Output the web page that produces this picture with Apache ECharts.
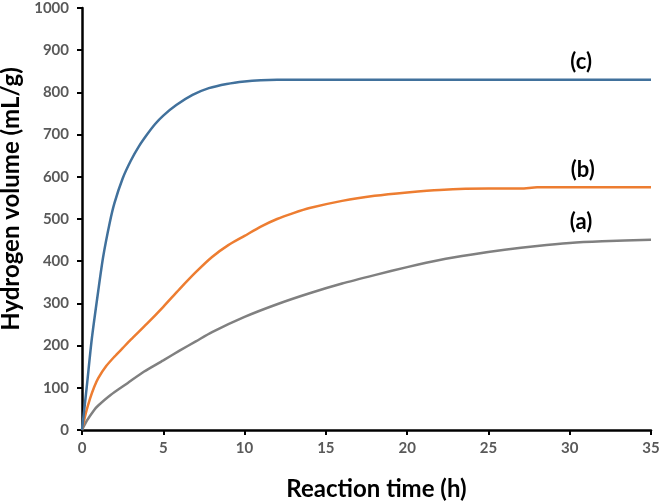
<!DOCTYPE html>
<html>
<head>
<meta charset="utf-8">
<script src="https://cdn.jsdelivr.net/npm/echarts@6/dist/echarts.min.js"></script>
<style>
html,body{margin:0;padding:0;background:#fff;}
#chart{width:661px;height:501px;}
</style>
</head>
<body>
<div id="chart"></div>
<script>
// Data: [time (h), hydrogen volume (mL/g)]
var seriesA = [[0,0],[0.3,22],[0.74,47],[1,58],[1.76,83],[2.8,111],[3.8,138],[5,165],[6,188],[7,210],[8,232],[10,268],[12,298],[14,324],[16,347],[18,367],[20,386],[22,403],[24,416],[26,427],[28,436],[30,443],[32,447],[35,451]];
var seriesB = [[0,0],[0.25,42],[0.5,75],[0.75,102],[1,123],[1.5,152],[2,174],[2.5,194],[3,214],[4,252],[5,292],[6,334],[7,374],[8,410],[9,438],[10,460],[11,482],[12,500],[13,514],[14,526],[16,543],[18,555],[20,563],[22,569],[25,572],[27,572],[28,575],[35,575]];
var seriesC = [[0,0],[0.3,105],[0.6,215],[1.0,330],[1.3,410],[1.7,490],[2.0,538],[2.5,596],[3,638],[3.5,672],[4,700],[4.5,725],[5,745],[5.8,770],[6.8,794],[7.8,810],[8.9,820],[10,826],[11,829],[12,830],[15,830],[20,830],[25,830],[30,830],[35,830]];
var labelA = {text:'(a)', coord:[30.7, 493]};
var labelB = {text:'(b)', coord:[30.8, 616]};
var labelC = {text:'(c)', coord:[30.7, 872]};
var xTitle = 'Reaction time (h)';
var yTitle = 'Hydrogen volume (mL/g)';

var FONT = 'Lato';
function mk(lbl){
  return {
    symbol:'circle', symbolSize:0,
    data:[{coord:lbl.coord, value:lbl.text}],
    label:{show:true, position:'inside', formatter:lbl.text, color:'#000', fontWeight:'bold', fontSize:22, fontFamily:FONT},
    itemStyle:{color:'rgba(0,0,0,0)'}
  };
}
var chart = echarts.init(document.getElementById('chart'), null, {renderer:'canvas'});
chart.setOption({
  animation:false,
  backgroundColor:'#fff',
  grid:{left:82, right:10, top:8, bottom:71, containLabel:false, outerBoundsMode:'none'},
  xAxis:{
    type:'value', min:0, max:35, interval:5,
    name:xTitle, nameLocation:'middle', nameGap:47,
    nameTextStyle:{color:'#000', fontWeight:'bold', fontSize:24, fontFamily:FONT, padding:[0,0,0,20]},
    axisLine:{show:true, onZero:false, lineStyle:{color:'#000', width:2.5}},
    axisTick:{show:true, length:5, lineStyle:{color:'#000', width:2}},
    axisLabel:{color:'#595959', fontWeight:'bold', fontSize:15, fontFamily:FONT, margin:11, formatter:function(v){return String(v);}},
    splitLine:{show:false}
  },
  yAxis:{
    type:'value', min:0, max:1000, interval:100,
    name:yTitle, nameLocation:'middle', nameGap:57,
    nameTextStyle:{color:'#000', fontWeight:'bold', fontSize:24, fontFamily:FONT, padding:[0,0,0,40]},
    axisLine:{show:true, onZero:false, lineStyle:{color:'#000', width:2.5}},
    axisTick:{show:true, length:5, lineStyle:{color:'#000', width:2}},
    axisLabel:{color:'#595959', fontWeight:'bold', fontSize:15, fontFamily:FONT, margin:13, formatter:function(v){return String(v);}},
    splitLine:{show:false}
  },
  series:[
    {type:'line', name:'(a)', data:seriesA, smooth:0.25, showSymbol:false, lineStyle:{color:'#808080', width:2.5}, itemStyle:{color:'#808080'}, markPoint:mk(labelA), z:2},
    {type:'line', name:'(b)', data:seriesB, smooth:0.25, showSymbol:false, lineStyle:{color:'#ED7D31', width:2.5}, itemStyle:{color:'#ED7D31'}, markPoint:mk(labelB), z:3},
    {type:'line', name:'(c)', data:seriesC, smooth:0.25, showSymbol:false, lineStyle:{color:'#41719C', width:2.5}, itemStyle:{color:'#41719C'}, markPoint:mk(labelC), z:4}
  ]
});
</script>
</body>
</html>
